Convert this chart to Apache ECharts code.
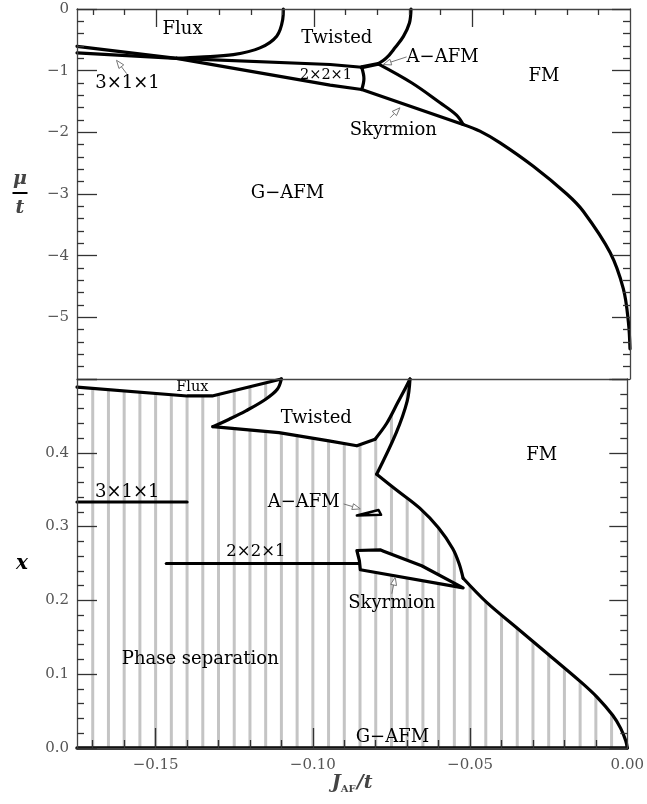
<!DOCTYPE html>
<html><head><meta charset="utf-8">
<script src="https://cdn.jsdelivr.net/npm/echarts@6/dist/echarts.min.js"></script>
<style>html,body{margin:0;padding:0;background:#fff}#c{width:647px;height:804px}</style>
</head><body><div id="c"></div>
<script>
// ================= DATA =================
const J_LABELS = [-0.15, -0.10, -0.05, 0.00];
const J_MAJOR = [-0.15, -0.10, -0.05];
const J_MINOR = [-0.17,-0.16,-0.14,-0.13,-0.12,-0.11,-0.09,-0.08,-0.07,-0.06,-0.04,-0.03,-0.02,-0.01];
const MU_RANGE = [-6, 0];
const X_RANGE = [0, 0.5];

// ---- top panel (J_AF/t , mu/t) boundaries ----
const TOP_3X1X1_UPPER = [[-0.175,-0.605],[-0.1435,-0.80]];
const TOP_3X1X1_LOWER = [[-0.175,-0.712],[-0.1435,-0.80]];
const TOP_2X2X1_UPPER = [[-0.1435,-0.80],[-0.0949,-0.90],[-0.0849,-0.945]];
const TOP_2X2X1_RIGHT = [[-0.0849,-0.945],[-0.0842,-1.13],[-0.0849,-1.306]];
const TOP_LOWER_LEFT  = [[-0.1435,-0.80],[-0.0949,-1.235],[-0.0849,-1.306]];
const TOP_LOWER_RIGHT = [[-0.0849,-1.306],[-0.0528,-1.872]];
const TOP_AAFM        = [[-0.0849,-0.945],[-0.0797,-0.89]];
const TOP_FLUX_CURVE  = [[-0.1097,0],[-0.1099,-0.17],[-0.1118,-0.44],[-0.1171,-0.63],[-0.1255,-0.74],[-0.1361,-0.78],[-0.1435,-0.80]];
const TOP_TWISTED_RIGHT = [[-0.0693,0],[-0.0698,-0.227],[-0.0717,-0.443],[-0.0744,-0.63],[-0.0770,-0.79],[-0.0797,-0.89]];
const TOP_SKY_UPPER   = [[-0.0797,-0.89],[-0.0690,-1.20],[-0.0601,-1.52],[-0.0549,-1.72],[-0.0528,-1.872]];
const TOP_FM_CURVE    = [[-0.0528,-1.872],[-0.0475,-1.98],[-0.0411,-2.17],[-0.0306,-2.55],[-0.0200,-3.00],[-0.0148,-3.28],[-0.0063,-3.95],[-0.0021,-4.54],[-0.0005,-5.08],[0,-5.51]];

// ---- bottom panel (J_AF/t , x) boundaries ----
const BOT_FLUX = [[-0.175,0.489],[-0.140,0.477],[-0.132,0.477],[-0.110,0.5]];
const BOT_TWISTED_LEFT  = [[-0.110,0.5],[-0.1113,0.486],[-0.1150,0.4726],[-0.1213,0.4568],[-0.1266,0.4455],[-0.1318,0.4355]];
const BOT_TWISTED_LOWER = [[-0.1318,0.4355],[-0.1108,0.4274],[-0.0949,0.4162],[-0.0860,0.4095],[-0.0802,0.4185]];
const BOT_TWISTED_RIGHT = [[-0.0802,0.4185],[-0.0765,0.440],[-0.0730,0.468],[-0.0705,0.488],[-0.0691,0.5]];
const BOT_FM_TOP    = [[-0.0691,0.5],[-0.0700,0.470],[-0.0735,0.427],[-0.0797,0.371]];
const BOT_FM_MID    = [[-0.0797,0.371],[-0.0735,0.350],[-0.0660,0.325],[-0.0600,0.298],[-0.0555,0.270],[-0.0535,0.250],[-0.0522,0.230]];
const BOT_FM_LOW    = [[-0.0522,0.230],[-0.0448,0.1977],[-0.0348,0.1617],[-0.0248,0.1257],[-0.0148,0.0896],[-0.0097,0.0693],[-0.0047,0.0446],[-0.0021,0.0266],[-0.0005,0.010],[0,0]];
const BOT_3X1X1 = [[-0.175,0.3333],[-0.140,0.3333]];
const BOT_2X2X1 = [[-0.1466,0.25],[-0.0855,0.25]];
const BOT_SKY   = [[-0.0860,0.2676],[-0.0786,0.2685],[-0.0775,0.2666],[-0.0654,0.2470],[-0.0522,0.217],[-0.0849,0.2415],[-0.0852,0.254],[-0.0860,0.2676]];
const BOT_AAFM  = [[-0.0860,0.315],[-0.0791,0.3225],[-0.0783,0.316],[-0.0860,0.315]];
const BOT_GAFM  = [[-0.175,0],[0,0]];
const STRIPE_J = [-0.170,-0.165,-0.160,-0.155,-0.150,-0.145,-0.140,-0.135,-0.130,-0.125,-0.120,-0.115,-0.110,-0.105,-0.100,-0.095,-0.090,-0.085,-0.080,-0.075,-0.070,-0.065,-0.060,-0.055,-0.050,-0.045,-0.040,-0.035,-0.030,-0.025,-0.020,-0.015,-0.010,-0.005];

// ---- annotations ----
const TOP_LABELS = [['Flux',-0.1416,-0.335],['Twisted',-0.0928,-0.48],['A\u2212AFM',-0.0593,-0.79],['FM',-0.0272,-1.095],['2\u00d72\u00d71',-0.0962,-1.08],['3\u00d71\u00d71',-0.159,-1.21],['Skyrmion',-0.0749,-1.97],['G\u2212AFM',-0.1084,-2.99]];
const BOT_LABELS = [['Flux',-0.1383,0.4882],['Twisted',-0.0989,0.4466],['FM',-0.0272,0.397],['3\u00d71\u00d71',-0.159,0.3464],['A\u2212AFM',-0.1029,0.333],['2\u00d72\u00d71',-0.1181,0.2653],['Skyrmion',-0.0749,0.196],['Phase separation',-0.1358,0.1203],['G\u2212AFM',-0.0747,0.0149]];
const TOP_ARROWS = [[-0.1593,-1.047,-0.1625,-0.832],[-0.0707,-0.777,-0.0781,-0.901],[-0.0759,-1.764,-0.0728,-1.602]];
const BOT_ARROWS = [[-0.0902,0.3307,-0.0849,0.324],[-0.0749,0.209,-0.0738,0.2315]];

// ================= CHART =================
const FONT = "'DejaVu Serif', serif";
const TICK = {color:'#333', width:1.3};
const AXLINE = {show:true, onZero:false, lineStyle:{color:'#444', width:1.3}};
const NOLINE = {show:false, onZero:false};

function fmtJ(v){ return Math.abs(v) < 1e-9 ? '0.00' : '\u2212' + Math.abs(v).toFixed(2); }
function fmtMu(v){ if (v <= -5.999) return ''; if (Math.abs(v) < 1e-9) return '0'; return '\u2212' + Math.round(Math.abs(v)); }
function fmtX(v){ return v >= 0.4999 ? '' : v.toFixed(1); }

function xAx(gi, pos, ticks, len, line, labels, extra){
  return Object.assign({
    type:'value', gridIndex:gi, position:pos, min:-0.175, max:0, z:10,
    axisLine: line ? AXLINE : NOLINE,
    axisTick: ticks ? {show:true, inside:true, length:len, customValues:ticks, lineStyle:TICK} : {show:false},
    axisLabel: labels ? {show:true, customValues:J_LABELS, formatter:fmtJ, margin:10, color:'#555', fontFamily:FONT, fontSize:15} : {show:false},
    splitLine:{show:false}, minorTick:{show:false}
  }, extra || {});
}
function yAx(gi, pos, range, interval, len, labels, fmt, extra){
  return Object.assign({
    type:'value', gridIndex:gi, position:pos, min:range[0], max:range[1], interval:interval, z:10,
    axisLine: AXLINE,
    axisTick:{show:true, inside:true, length:len, lineStyle:TICK},
    minorTick:{show:true, splitNumber:5, length:7, lineStyle:TICK},
    axisLabel: labels ? {show:true, formatter:fmt, margin:8, color:'#555', fontFamily:FONT, fontSize:15} : {show:false},
    splitLine:{show:false}, minorSplitLine:{show:false}
  }, extra || {});
}

function ax(g){ return g ? {xAxisIndex:2, yAxisIndex:2} : {xAxisIndex:0, yAxisIndex:0}; }
function lineS(data, g, smooth, width){
  return Object.assign({type:'line', data:data, showSymbol:false, symbol:'none', smooth:smooth ? 0.35 : false,
    lineStyle:{color:'#000', width:width || 3.2, join:'round', cap:'round'}, z:5, silent:true, clip:false, animation:false}, ax(g));
}
function polyS(points, g, fill, z){
  return Object.assign({type:'custom', data:points.map(p=>[p[0],p[1]]), silent:true, z:z, animation:false,
    renderItem:(params, api)=>{
      if (params.dataIndex !== 0) return null;
      return {type:'polygon', shape:{points:points.map(p=>api.coord(p))}, style:{fill:fill, stroke:null}};
    }}, ax(g));
}
function stripeS(){
  return Object.assign({type:'custom', data:STRIPE_J.map(j=>[j,0]), silent:true, z:1, animation:false,
    renderItem:(params, api)=>{
      const a = api.coord([api.value(0), X_RANGE[0]]);
      const b = api.coord([api.value(0), X_RANGE[1]]);
      return {type:'line', shape:{x1:a[0],y1:a[1],x2:b[0],y2:b[1]}, style:{stroke:'#c4c4c4', lineWidth:3}};
    }}, ax(1));
}
function sizeOf(t, g){
  if (t === '2\u00d72\u00d71') return g ? 16.5 : 14.5;
  if (t === 'Flux' && g) return 14.5;
  return 18;
}
function textS(list, g){
  return Object.assign({type:'custom', data:list.map(l=>[l[1],l[2]]), silent:true, z:8, animation:false,
    renderItem:(params, api)=>{
      const l = list[params.dataIndex];
      const p = api.coord([api.value(0), api.value(1)]);
      return {type:'text', x:p[0], y:p[1], style:{text:l[0], fontFamily:FONT, fontSize:sizeOf(l[0], g), fill:'#000', align:'center', verticalAlign:'middle'}};
    }}, ax(g));
}
function arrowS(list, g){
  return Object.assign({type:'custom', data:list.map(a=>[a[0],a[1],a[2],a[3]]), silent:true, z:8, animation:false,
    renderItem:(params, api)=>{
      const p1 = api.coord([api.value(0), api.value(1)]);
      const p2 = api.coord([api.value(2), api.value(3)]);
      const dx = p2[0]-p1[0], dy = p2[1]-p1[1], L = Math.sqrt(dx*dx+dy*dy) || 1;
      const ux = dx/L, uy = dy/L, hl = 8, hw = 3;
      const bx = p2[0]-ux*hl, by = p2[1]-uy*hl;
      return {type:'group', children:[
        {type:'line', shape:{x1:p1[0],y1:p1[1],x2:bx,y2:by}, style:{stroke:'#777', lineWidth:1}},
        {type:'polygon', shape:{points:[[p2[0],p2[1]],[bx-uy*hw,by+ux*hw],[bx+uy*hw,by-ux*hw]]}, style:{fill:'#fff', stroke:'#777', lineWidth:1}}
      ]};
    }}, ax(g));
}

const twistedFill = [].concat(BOT_TWISTED_LEFT, BOT_TWISTED_LOWER, BOT_TWISTED_RIGHT);
const fluxFill = [[-0.175, X_RANGE[1]]].concat(BOT_FLUX);
const fmFill = [].concat(BOT_FM_TOP, BOT_FM_MID, BOT_FM_LOW, [[0, X_RANGE[1]]]);

const option = {
  animation:false,
  backgroundColor:'#fff',
  grid:[
    {left:77, right:17, top:9, height:370},
    {left:77, right:17, top:379, height:369}
  ],
  xAxis:[
    xAx(0,'top',J_MAJOR,18,true,false),
    xAx(0,'top',J_MINOR,6,false,false),
    xAx(1,'bottom',J_MAJOR,20,true,true,{
      name:'{j|J}{s|AF}{t|/t}', nameLocation:'middle', nameGap:22,
      nameTextStyle:{rich:{
        j:{fontFamily:FONT, fontStyle:'italic', fontWeight:'bold', fontSize:19, lineHeight:24},
        s:{fontFamily:FONT, fontWeight:'bold', fontSize:10, padding:[12,1,0,0]},
        t:{fontFamily:FONT, fontStyle:'italic', fontWeight:'bold', fontSize:19, lineHeight:24}
      }}
    }),
    xAx(1,'bottom',J_MINOR,8,false,false),
    xAx(1,'top',null,0,true,false)
  ],
  yAxis:[
    yAx(0,'left',MU_RANGE,1,20,true,fmtMu,{
      name:'{mu|\u03bc}\n{bar|\u3000}\n{t|t}', nameLocation:'middle', nameGap:49, nameRotate:0,
      nameTextStyle:{rich:{
        mu:{fontFamily:FONT, fontStyle:'italic', fontWeight:'bold', fontSize:19, lineHeight:26, width:16, align:'center'},
        bar:{width:15, height:2, lineHeight:2, fontSize:2, backgroundColor:'#000', align:'center'},
        t:{fontFamily:FONT, fontStyle:'italic', fontWeight:'bold', fontSize:19, lineHeight:28, width:16, align:'center'}
      }}
    }),
    yAx(0,'right',MU_RANGE,1,18,false,null),
    yAx(1,'left',X_RANGE,0.1,20,true,fmtX,{
      name:'x', nameLocation:'middle', nameGap:49, nameRotate:0,
      nameTextStyle:{fontFamily:FONT, fontStyle:'italic', fontWeight:'bold', fontSize:20, color:'#000'}
    }),
    yAx(1,'right',X_RANGE,0.1,18,false,null)
  ],
  series:[
    // top panel
    lineS(TOP_3X1X1_UPPER,0,false),
    lineS(TOP_3X1X1_LOWER,0,false),
    lineS(TOP_2X2X1_UPPER,0,false),
    lineS(TOP_2X2X1_RIGHT,0,true),
    lineS(TOP_LOWER_LEFT,0,false),
    lineS(TOP_LOWER_RIGHT,0,false),
    lineS(TOP_AAFM,0,false,4),
    lineS(TOP_FLUX_CURVE,0,true),
    lineS(TOP_TWISTED_RIGHT,0,true),
    lineS(TOP_SKY_UPPER,0,true),
    lineS(TOP_FM_CURVE,0,true),
    textS(TOP_LABELS,0),
    arrowS(TOP_ARROWS,0),
    // bottom panel
    stripeS(),
    polyS(fluxFill,1,'#fff',2),
    polyS(twistedFill,1,'#fff',2),
    polyS(fmFill,1,'#fff',2),
    polyS(BOT_SKY,1,'#fff',2),
    polyS(BOT_AAFM,1,'#fff',2),
    lineS(BOT_FLUX,1,false),
    lineS(BOT_TWISTED_LEFT,1,true),
    lineS(BOT_TWISTED_LOWER,1,false),
    lineS(BOT_TWISTED_RIGHT,1,true),
    lineS(BOT_FM_TOP,1,true),
    lineS(BOT_FM_MID,1,true),
    lineS(BOT_FM_LOW,1,true),
    lineS(BOT_3X1X1,1,false),
    lineS(BOT_2X2X1,1,false),
    lineS(BOT_SKY,1,false),
    lineS(BOT_AAFM,1,false,2.5),
    lineS(BOT_GAFM,1,false,3.5),
    textS(BOT_LABELS,1),
    arrowS(BOT_ARROWS,1)
  ]
};
const chart = echarts.init(document.getElementById('c'));
chart.setOption(option);
</script></body></html>
